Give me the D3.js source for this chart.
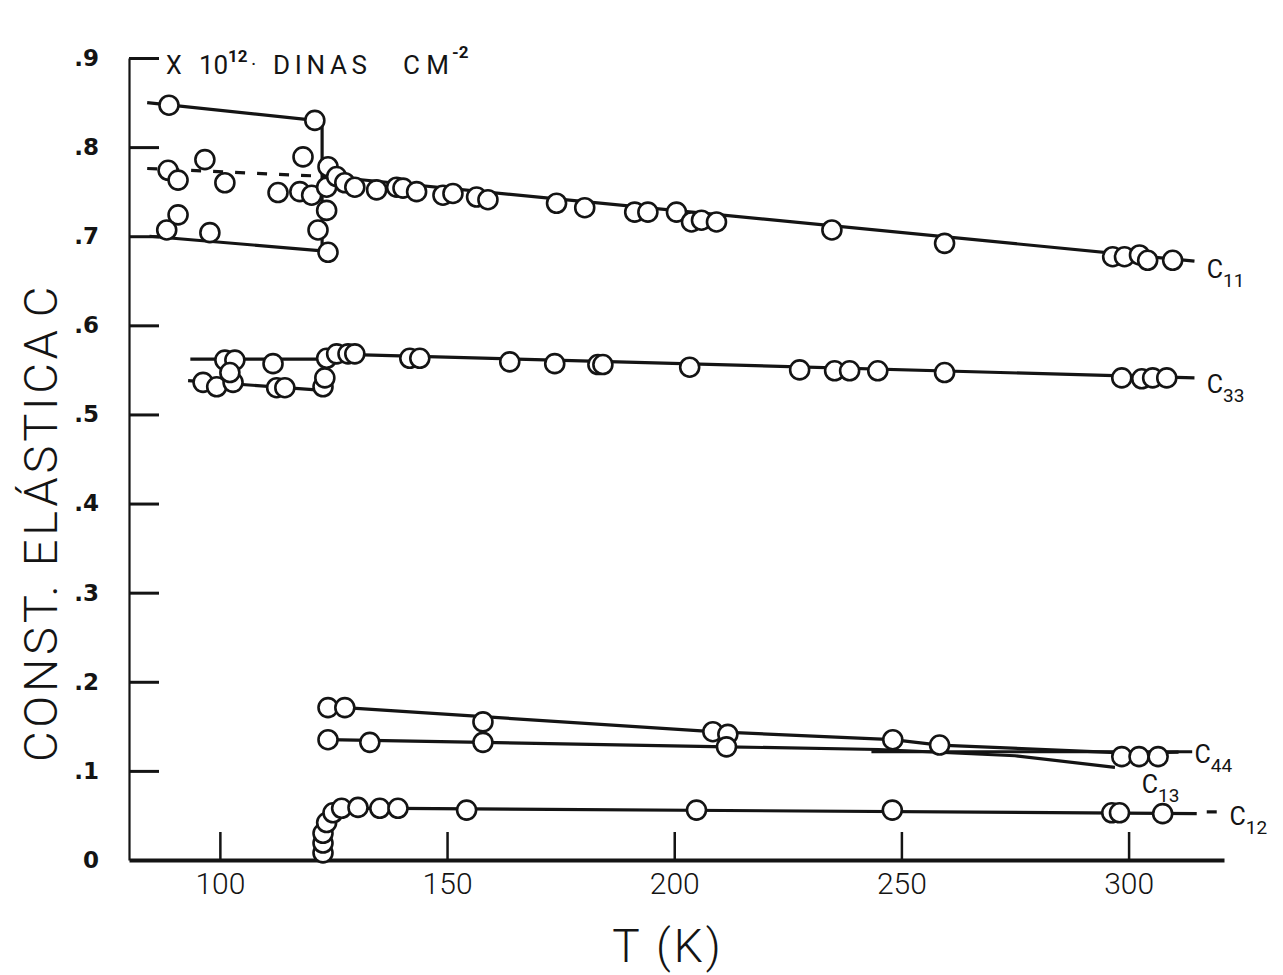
<!DOCTYPE html>
<html>
<head>
<meta charset="utf-8">
<script src="https://cdn.jsdelivr.net/npm/d3@7"></script>
<style>
  body { margin: 0; background: #fff; }
  svg { display: block; }
</style>
</head>
<body>
<div id="chart"></div>
<script>
// axis ticks
var xTicks = [100, 150, 200, 250, 300];
var yTicks = [0, .1, .2, .3, .4, .5, .6, .7, .8, .9];
var yTickLabels = ["0", ".1", ".2", ".3", ".4", ".5", ".6", ".7", ".8", ".9"];

// measured points, [T (K), C x10^12 dinas/cm2]
var c11Points = [
  [88.8, .847], [120.9, .830],
  [90.8, .724], [88.3, .707], [97.8, .704], [123.8, .682],
  [88.6, .774], [90.8, .763], [96.7, .786], [101.1, .760], [112.8, .749],
  [118.3, .789], [117.6, .750], [120.2, .746], [123.8, .778], [123.5, .755],
  [123.5, .729], [121.6, .707], [125.7, .767], [127.5, .760], [129.7, .755],
  [134.5, .752], [138.9, .755], [140.3, .754], [143.3, .750], [149.1, .746],
  [151.3, .748], [156.5, .744], [159.0, .741], [174.1, .737], [180.3, .732],
  [191.3, .727], [194.2, .727], [200.5, .727], [203.8, .716], [206.0, .718],
  [209.3, .716], [234.7, .707], [259.5, .692], [296.5, .677], [299.1, .677],
  [302.4, .679], [304.2, .673], [309.7, .673]
];
var c33Points = [
  [101.1, .561], [103.3, .561], [111.7, .557], [123.5, .563], [125.7, .568],
  [128.2, .568], [129.7, .568],
  [96.3, .536], [99.3, .531], [102.9, .536], [102.2, .547], [112.5, .530],
  [114.3, .530], [122.7, .531], [123.1, .541],
  [141.8, .563], [144.0, .563], [163.8, .559], [173.7, .557], [183.2, .556],
  [184.3, .556], [203.4, .553], [227.6, .550], [235.3, .549], [238.6, .549],
  [244.8, .549], [259.5, .547], [298.5, .541], [302.9, .540], [305.3, .541],
  [308.4, .541]
];
var c44Points = [
  [123.8, .171], [127.5, .171], [157.9, .155], [208.5, .144], [211.8, .141],
  [248.1, .135], [258.4, .129], [298.5, .116], [302.3, .116], [306.5, .116]
];
var c13Points = [
  [123.8, .135], [133.0, .132], [157.9, .132], [211.5, .127]
];
var c12Points = [
  [122.7, .008], [122.7, .019], [122.7, .030], [123.5, .042], [124.9, .053],
  [126.8, .058], [130.4, .059], [135.2, .058], [139.2, .058], [154.3, .056],
  [204.9, .056], [248.0, .056], [296.3, .053], [298.0, .053], [307.5, .052]
];

// hand drawn curves through the points
var c11Lines = [
  [[84.0, .850], [121.0, .830]],
  [[122.5, .828], [122.5, .690]],
  [[84.5, .700], [123.8, .683]],
  [[123.8, .767], [314.5, .672]]
];
var c11DashLines = [
  [[84.0, .776], [123.8, .767]]
];
var c33Lines = [
  [[93.5, .562], [123.5, .562]],
  [[93.0, .538], [122.7, .527]],
  [[123.5, .568], [314.5, .541]]
];
var c44Lines = [
  [[127.5, .171], [208.5, .144], [248.1, .135], [258.4, .129], [300.0, .120], [311.0, .121]],
  [[243.4, .1215], [314.0, .1215]]
];
var c13Lines = [
  [[123.8, .135], [157.9, .132], [211.5, .127], [245.0, .124], [275.0, .117], [297.0, .104]]
];
var c12Lines = [
  [[122.5, 0], [122.7, .030], [124.5, .050], [127.0, .058], [139.0, .058], [315.0, .052]],
  [[317.2, .054], [319.4, .054]]
];

// curve names, anchored in data units
var curveNames = [
  {name: "C", sub: "11", T: 317.2, C: .653},
  {name: "C", sub: "33", T: 317.2, C: .524},
  {name: "C", sub: "44", T: 314.5, C: .109},
  {name: "C", sub: "13", T: 302.9, C: .075},
  {name: "C", sub: "12", T: 322.2, C: .039}
];

var width = 1283, height = 975;
var ink = "#141414";
var thinFont = "Roboto, 'Open Sans', 'DejaVu Sans', sans-serif";

var x = d3.scaleLinear().domain([80, 321]).range([129, 1224]);
var y = d3.scaleLinear().domain([0, .9]).range([860, 58]);

var svg = d3.select("#chart").append("svg")
  .attr("width", width)
  .attr("height", height);

svg.append("rect").attr("width", width).attr("height", height).attr("fill", "#fff");

// y axis
var yAxis = d3.axisLeft(y)
  .tickValues(yTicks)
  .tickFormat(function(d, i) { return yTickLabels[i]; })
  .tickSize(-30)
  .tickSizeOuter(0)
  .tickPadding(30);

var gy = svg.append("g").attr("transform", "translate(129,0)").call(yAxis);
gy.select(".domain").attr("stroke", ink).attr("stroke-width", 2.2);
gy.selectAll(".tick line").attr("stroke", ink).attr("stroke-width", 3)
  .filter(function(d) { return d === 0; }).remove();
gy.selectAll(".tick text")
  .attr("fill", ink)
  .style("font-family", "'DejaVu Sans', sans-serif")
  .style("font-weight", "bold")
  .style("font-size", "23px");

// x axis
var xAxis = d3.axisBottom(x)
  .tickValues(xTicks)
  .tickSize(-28)
  .tickSizeOuter(0)
  .tickPadding(13);

var gx = svg.append("g").attr("transform", "translate(0,860)").call(xAxis);
gx.select(".domain").attr("stroke", ink).attr("stroke-width", 4);
gx.selectAll(".tick line").attr("stroke", ink).attr("stroke-width", 2.5);
gx.selectAll(".tick text")
  .attr("fill", ink)
  .style("font-family", thinFont)
  .style("font-weight", "300")
  .style("font-size", "30px");

// curves
var line = d3.line()
  .x(function(d) { return x(d[0]); })
  .y(function(d) { return y(d[1]); });

var solid = [].concat(c11Lines, c33Lines, c44Lines, c13Lines, c12Lines);

svg.append("g").selectAll("path.fit")
  .data(solid)
  .enter().append("path")
  .attr("class", "fit")
  .attr("d", line)
  .attr("fill", "none")
  .attr("stroke", ink)
  .attr("stroke-width", 3.2)
  .attr("stroke-linejoin", "round");

svg.append("g").selectAll("path.dash")
  .data(c11DashLines)
  .enter().append("path")
  .attr("class", "dash")
  .attr("d", line)
  .attr("fill", "none")
  .attr("stroke", ink)
  .attr("stroke-width", 3.2)
  .attr("stroke-dasharray", "10,12");

// open circles
var points = [].concat(c11Points, c33Points, c44Points, c13Points, c12Points);

svg.append("g").selectAll("circle")
  .data(points)
  .enter().append("circle")
  .attr("cx", function(d) { return x(d[0]); })
  .attr("cy", function(d) { return y(d[1]); })
  .attr("r", 9.5)
  .attr("fill", "#fff")
  .attr("stroke", ink)
  .attr("stroke-width", 2.6);

// curve names
var names = svg.append("g").selectAll("text")
  .data(curveNames)
  .enter().append("text")
  .attr("x", function(d) { return x(d.T); })
  .attr("y", function(d) { return y(d.C); })
  .attr("fill", ink)
  .style("font-family", thinFont)
  .style("font-size", "25px");
names.append("tspan").text(function(d) { return d.name; });
names.append("tspan")
  .attr("dy", 9)
  .style("font-size", "19px")
  .text(function(d) { return d.sub; });

// units note at the top of the y axis
var note = svg.append("g")
  .attr("fill", ink)
  .style("font-family", thinFont);
note.append("text").attr("x", 166).attr("y", 74).style("font-size", "25px").text("X");
note.append("text").attr("x", 199).attr("y", 74).style("font-size", "26px").text("10");
note.append("text").attr("x", 228).attr("y", 62).style("font-size", "17px").style("font-weight", "bold").text("12");
note.append("text").attr("x", 251).attr("y", 71).style("font-size", "20px").text("·");
note.append("text").attr("x", 273).attr("y", 74).style("font-size", "26px")
  .attr("textLength", 94).attr("lengthAdjust", "spacing").text("DINAS");
note.append("text").attr("x", 403).attr("y", 74).style("font-size", "26px")
  .attr("textLength", 46).attr("lengthAdjust", "spacing").text("CM");
note.append("text").attr("x", 452).attr("y", 58).style("font-size", "17px").style("font-weight", "bold").text("-2");

// axis titles
svg.append("text")
  .attr("transform", "translate(57,546) rotate(-90)")
  .attr("text-anchor", "middle")
  .attr("textLength", 432)
  .attr("lengthAdjust", "spacing")
  .attr("fill", ink)
  .style("font-family", thinFont)
  .style("font-weight", "300")
  .style("font-size", "47px")
  .text("CONST. ELÁSTICA");

svg.append("text")
  .attr("transform", "translate(57,302) rotate(-90)")
  .attr("text-anchor", "middle")
  .attr("fill", ink)
  .style("font-family", thinFont)
  .style("font-weight", "300")
  .style("font-size", "47px")
  .text("C");

svg.append("text")
  .attr("x", 668)
  .attr("y", 962)
  .attr("text-anchor", "middle")
  .attr("fill", ink)
  .style("font-family", thinFont)
  .style("font-weight", "300")
  .style("font-size", "46px")
  .style("letter-spacing", "3px")
  .text("T (K)");
</script>
</body>
</html>
